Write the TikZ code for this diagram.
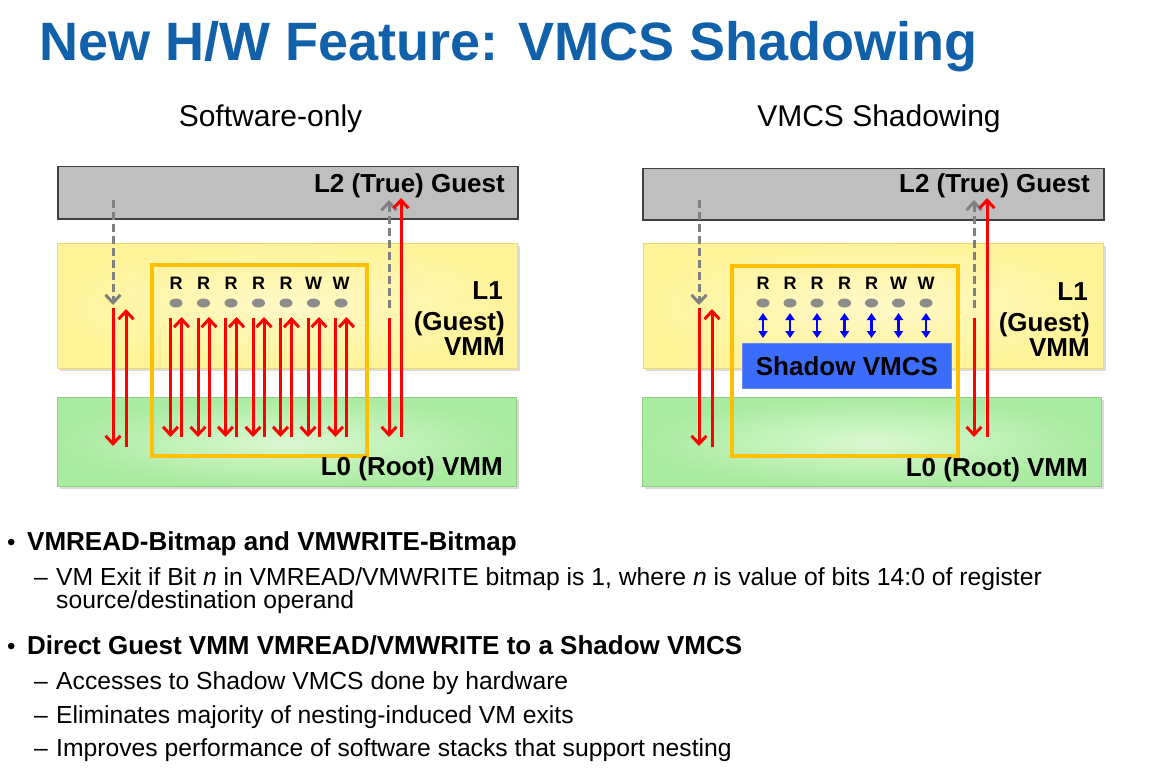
\documentclass[tikz,border=0pt]{standalone}
\usepackage{fontspec}
\setmainfont{Liberation Sans}
\usetikzlibrary{arrows.meta,shapes.geometric}

\definecolor{titleblue}{HTML}{1060AA}
\definecolor{guestgray}{HTML}{BFBFBF}
\definecolor{guestedge}{HTML}{404040}
\definecolor{vmmyellow}{HTML}{FFF399}
\definecolor{vmmyellowhi}{HTML}{FFF9C8}
\definecolor{vmmedge}{HTML}{F2D86A}
\definecolor{rootgreen}{HTML}{A9EBA0}
\definecolor{rootgreenhi}{HTML}{DAF8D2}
\definecolor{rootedge}{HTML}{8CCF7E}
\definecolor{vmcsorange}{HTML}{FFC000}
\definecolor{fieldgray}{HTML}{8C8C8C}
\definecolor{shadowblue}{HTML}{3C6CFA}
\definecolor{exitred}{HTML}{FF0000}

\newcommand{\fsz}[1]{\fontsize{#1}{#1}\selectfont}

\tikzset{
  layerbox/.style={draw, line width=1.2pt, inner sep=0pt, anchor=north west},
  boxshadow/.style={fill=black!14, draw=none},
  guestbox/.style={layerbox, draw=guestedge, fill=guestgray, line width=1.5pt},
  vmmbox/.style={layerbox, draw=vmmedge, inner color=vmmyellowhi, outer color=vmmyellow},
  rootbox/.style={layerbox, draw=rootedge, inner color=rootgreenhi, outer color=rootgreen},
  vmcsframe/.style={draw=vmcsorange, line width=4pt},
  layerlabel/.style={font=\bfseries\fsz{26}, inner sep=0pt, anchor=base east},
  fieldlabel/.style={font=\bfseries\fsz{18}, inner sep=0pt, anchor=base},
  fielddot/.style={ellipse, fill=fieldgray, minimum width=13pt, minimum height=9pt, inner sep=0pt},
  exitarrow/.style={draw=exitred, line width=3pt, -{Straight Barb[length=8pt,width=15pt]}},
  entryarrow/.style={draw=gray, line width=3pt, dash pattern=on 8pt off 4pt,
                     -{Straight Barb[length=8pt,width=15pt]}},
  hwarrow/.style={draw=blue, line width=2.2pt,
                  {Triangle[length=7pt,width=9pt]}-{Triangle[length=7pt,width=9pt]}},
  heading/.style={font=\fsz{30}, inner sep=0pt, anchor=base},
  bulletmark/.style={font=\fsz{24}, inner sep=0pt, anchor=base west},
  bullettext/.style={font=\bfseries\fsz{26}, inner sep=0pt, anchor=base west},
  dashmark/.style={font=\fsz{24.7}, inner sep=0pt, anchor=base west},
  subtext/.style={font=\fsz{24.7}, inner sep=0pt, anchor=base west},
}

\begin{document}
\begin{tikzpicture}[x=1pt,y=-1pt]
\useasboundingbox[fill=white] (0,0) rectangle (1154,773);

% title
\node[font=\bfseries\fsz{54}, text=titleblue, inner sep=0pt, anchor=base west]
  (title) at (39,61) {New H/W Feature: VMCS Shadowing};

% column headings
\node[heading] (headsw) at (270.5,127) {Software-only};
\node[heading] (headhw) at (879,127) {VMCS Shadowing};

% ---------------- software-only stack ----------------
\fill[boxshadow] (60,246) rectangle (520,371);
\fill[boxshadow] (60,400) rectangle (519,489);
\node[guestbox, minimum width=460pt, minimum height=52pt] (l2a) at (57,166) {};
\node[vmmbox, minimum width=460pt, minimum height=125pt] (l1a) at (57,243) {};
\node[rootbox, minimum width=459pt, minimum height=89pt] (l0a) at (57,397) {};

\draw[vmcsframe] (152,265) rectangle (367,456);

\node[layerlabel] (l2alab) at (505,192) {L2 (True) Guest};
\node[layerlabel] (l1alab1) at (503,299) {L1};
\node[layerlabel] (l1alab2) at (505,330) {(Guest)};
\node[layerlabel] (l1alab3) at (505,355) {VMM};
\node[layerlabel] (l0alab) at (503,475) {L0 (Root) VMM};

\foreach \i/\x/\t in {1/176/R,2/203.5/R,3/231/R,4/258.5/R,5/286/R,6/313.5/W,7/341/W}{
  \node[fieldlabel] (fa\i) at (\x,289) {\t};
  \node[fielddot] (da\i) at (\x,303) {};
  \draw[exitarrow] (\x-5.5,318) -- (\x-5.5,437);
  \draw[exitarrow] (\x+5.5,437) -- (\x+5.5,317);
}

% VM entry into L2, exit to L0, resume in L1
\coordinate (ea1) at (113,200);
\coordinate (ea2) at (113,305);
\draw[entryarrow] (ea1) -- (ea2);
\draw[exitarrow] (113,308) -- (113,446);
\draw[exitarrow] (126,447) -- (126,309);
\coordinate (ea3) at (389,308);
\coordinate (ea4) at (389,200);
\draw[entryarrow] (ea3) -- (ea4);
\draw[exitarrow] (389,318) -- (389,437);
\draw[exitarrow] (401,437) -- (401,198);

% ---------------- VMCS shadowing stack ----------------
\fill[boxshadow] (646,246) rectangle (1106,371);
\fill[boxshadow] (645,400) rectangle (1104,489);
\node[guestbox, minimum width=461pt, minimum height=51pt] (l2b) at (642,168) {};
\node[vmmbox, minimum width=460pt, minimum height=125pt] (l1b) at (643,243) {};
\node[rootbox, minimum width=459pt, minimum height=89pt] (l0b) at (642,397) {};

\draw[vmcsframe] (732,266) rectangle (958,456);

\node[layerlabel] (l2blab) at (1090,193) {L2 (True) Guest};
\node[layerlabel] (l1blab1) at (1088,300) {L1};
\node[layerlabel] (l1blab2) at (1090,331) {(Guest)};
\node[layerlabel] (l1blab3) at (1090,356) {VMM};
\node[layerlabel] (l0blab) at (1088,476) {L0 (Root) VMM};

\node[draw=shadowblue!80!white, fill=shadowblue, line width=0.8pt, inner sep=0pt,
      minimum width=209pt, minimum height=45pt, anchor=north west,
      font=\bfseries\fsz{26}] (svmcs) at (742,343) {Shadow VMCS};

\foreach \i/\x/\t in {1/763/R,2/790/R,3/817/R,4/844.5/R,5/871.5/R,6/898.5/W,7/926/W}{
  \node[fieldlabel] (fb\i) at (\x,289) {\t};
  \node[fielddot] (db\i) at (\x,303) {};
  \draw[hwarrow] (\x,313) -- (\x,338);
}

\coordinate (eb1) at (699,200);
\coordinate (eb2) at (699,305);
\draw[entryarrow] (eb1) -- (eb2);
\draw[exitarrow] (699,308) -- (699,446);
\draw[exitarrow] (712,447) -- (712,309);
\coordinate (eb3) at (974,308);
\coordinate (eb4) at (974,200);
\draw[entryarrow] (eb3) -- (eb4);
\draw[exitarrow] (974,318) -- (974,437);
\draw[exitarrow] (987,437) -- (987,198);

% ---------------- bullet list ----------------
\node[bulletmark] (b1) at (7,550) {•};
\node[bullettext] (b1t) at (27,550) {VMREAD-Bitmap and VMWRITE-Bitmap};
\node[dashmark] (s1) at (34,585) {–};
\node[subtext] (s1t) at (56,585) {VM Exit if Bit \textit{n} in VMREAD/VMWRITE bitmap is 1, where \textit{n} is value of bits 14:0 of register};
\node[subtext] (s1u) at (56,608) {source/destination operand};

\node[bulletmark] (b2) at (7,654) {•};
\node[bullettext] (b2t) at (27,654) {Direct Guest VMM VMREAD/VMWRITE to a Shadow VMCS};
\node[dashmark] (s2) at (34,689) {–};
\node[subtext] (s2t) at (56,689) {Accesses to Shadow VMCS done by hardware};
\node[dashmark] (s3) at (34,723) {–};
\node[subtext] (s3t) at (56,723) {Eliminates majority of nesting-induced VM exits};
\node[dashmark] (s4) at (34,756) {–};
\node[subtext] (s4t) at (56,756) {Improves performance of software stacks that support nesting};
\end{tikzpicture}
\end{document}
